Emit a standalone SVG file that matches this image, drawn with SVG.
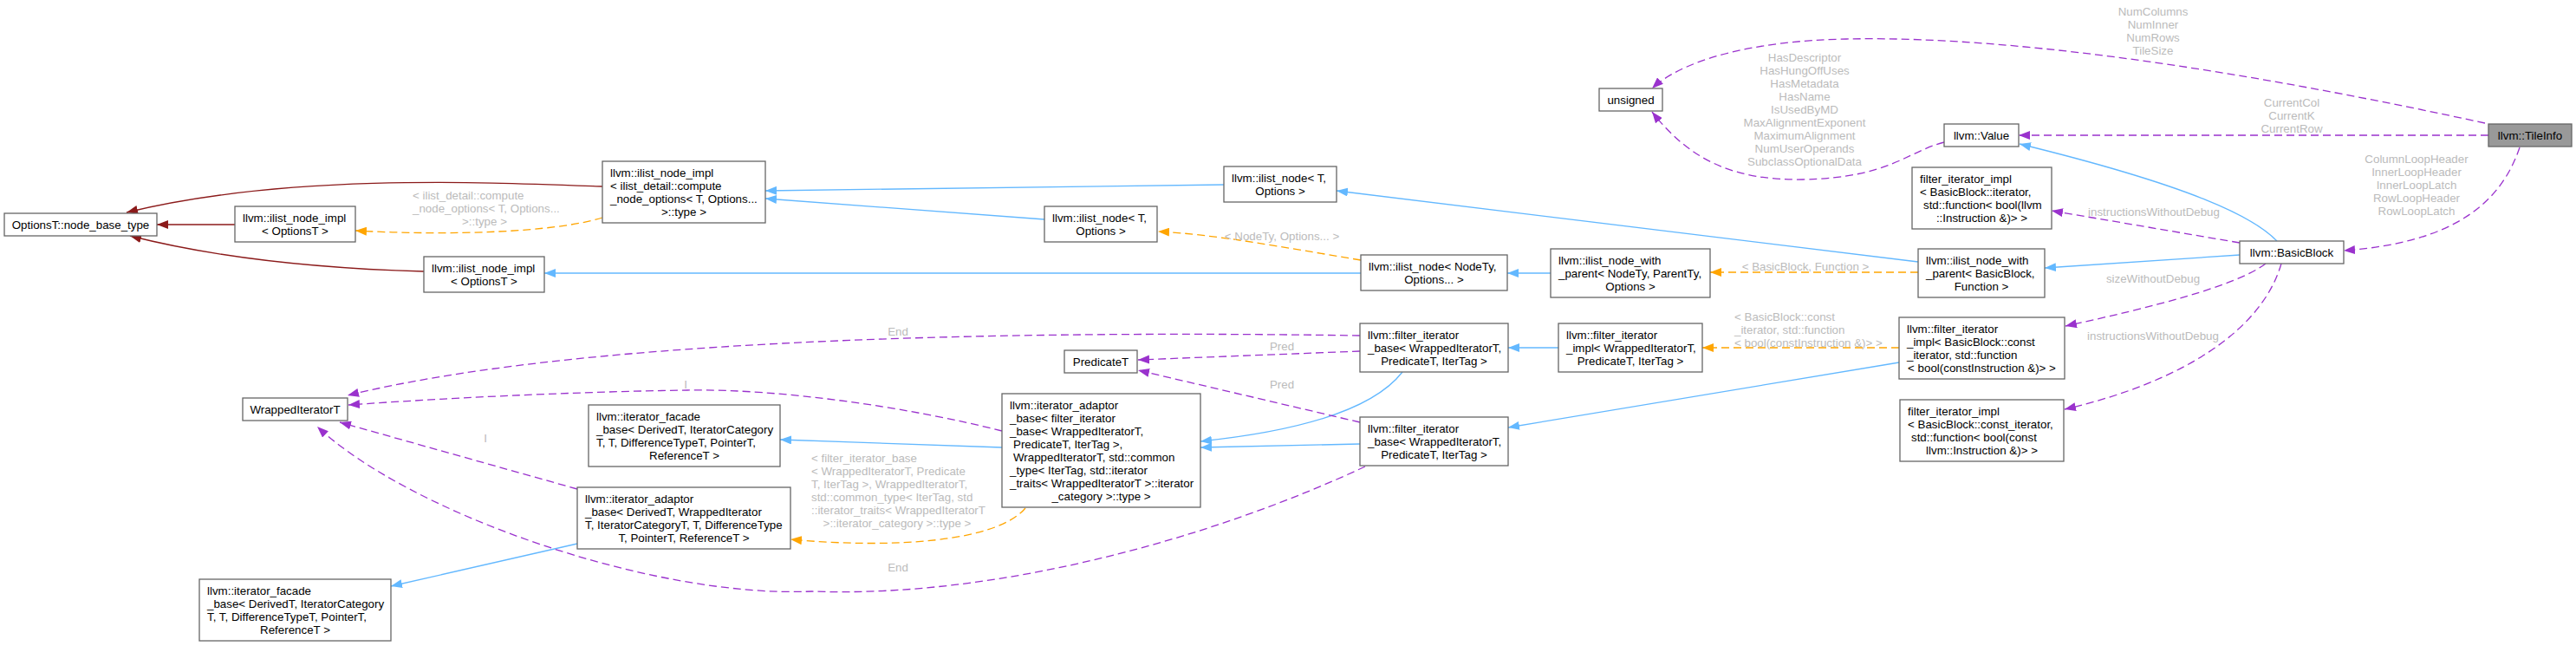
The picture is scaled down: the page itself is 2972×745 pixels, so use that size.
<svg xmlns="http://www.w3.org/2000/svg" width="2972" height="745" viewBox="0 0 2972 745">
<style>
text{font-family:"Liberation Sans",Arial,Helvetica,sans-serif;font-size:13.33px;fill:#000}
.c{text-anchor:middle}
.l{fill:#bbbbbb}
.n rect{fill:#fff;stroke:#666;stroke-width:1.3}
#n_tile rect{fill:#999}
#edges path{fill:none;stroke-width:1.3}
.b{stroke:#63b8ff;marker-end:url(#mb)}
.r{stroke:#8b1a1a;marker-end:url(#mr)}
.o{stroke:#ffa500;stroke-dasharray:9,5;marker-end:url(#mo)}
.p{stroke:#9a32cd;stroke-dasharray:9,5;marker-end:url(#mp)}
</style>
<defs>
<marker id="mb" markerUnits="userSpaceOnUse" viewBox="0 0 13 10" markerWidth="13" markerHeight="10" refX="13" refY="5" orient="auto"><path d="M0,0L13,5L0,10z" fill="#63b8ff"/></marker>
<marker id="mr" markerUnits="userSpaceOnUse" viewBox="0 0 13 10" markerWidth="13" markerHeight="10" refX="13" refY="5" orient="auto"><path d="M0,0L13,5L0,10z" fill="#8b1a1a"/></marker>
<marker id="mo" markerUnits="userSpaceOnUse" viewBox="0 0 13 10" markerWidth="13" markerHeight="10" refX="13" refY="5" orient="auto"><path d="M0,0L13,5L0,10z" fill="#ffa500"/></marker>
<marker id="mp" markerUnits="userSpaceOnUse" viewBox="0 0 13 10" markerWidth="13" markerHeight="10" refX="13" refY="5" orient="auto"><path d="M0,0L13,5L0,10z" fill="#9a32cd"/></marker>
</defs>
<rect x="0" y="0" width="2972" height="745" fill="#fff"/>
<g id="edges">
<path class="r" d="M695,215 C560,210 330,200 146,245"/>
<path class="r" d="M271,259 L181,259"/>
<path class="r" d="M489,313 C380,310 260,300 150,272"/>
<path class="o" d="M695,251 C640,268 520,272 410,266"/>
<text class="l" x="476" y="229.7">&lt; ilist_detail::compute</text>
<text class="l" x="476" y="244.7">_node_options&lt; T, Options...</text>
<text class="l c" x="559" y="259.7">&gt;::type &gt;</text>
<path class="b" d="M1412,213 L883,220"/>
<path class="b" d="M1205,253 L883,229"/>
<path class="b" d="M1570,315 L628,315"/>
<path class="b" d="M1789,315 L1739,315"/>
<path class="o" d="M1570,300 C1480,285 1400,270 1336,267"/>
<text class="l c" x="1479" y="276.7">&lt; NodeTy, Options... &gt;</text>
<path class="b" d="M2213,302 L1542,220"/>
<path class="o" d="M2213,314 L1973,314"/>
<text class="l c" x="2083" y="312">&lt; BasicBlock, Function &gt;</text>
<path class="b" d="M2584,294 L2359,309"/>
<path class="b" d="M2627,278 C2600,250 2530,215 2330,166"/>
<path class="p" d="M2867,142 C2650,95 2350,40 2130,45 C2020,47 1940,70 1906,102"/>
<text class="l c" x="2484" y="18">NumColumns</text>
<text class="l c" x="2484" y="33">NumInner</text>
<text class="l c" x="2484" y="48">NumRows</text>
<text class="l c" x="2484" y="63">TileSize</text>
<path class="p" d="M2871,156 L2329,156"/>
<text class="l c" x="2644" y="123">CurrentCol</text>
<text class="l c" x="2644" y="138">CurrentK</text>
<text class="l c" x="2644" y="153">CurrentRow</text>
<path class="p" d="M2907,170 C2885,235 2830,280 2704,289"/>
<text class="l c" x="2788" y="188">ColumnLoopHeader</text>
<text class="l c" x="2788" y="203">InnerLoopHeader</text>
<text class="l c" x="2788" y="218">InnerLoopLatch</text>
<text class="l c" x="2788" y="233">RowLoopHeader</text>
<text class="l c" x="2788" y="248">RowLoopLatch</text>
<path class="p" d="M2243,164 C2200,175 2180,205 2080,207 C2000,208 1950,185 1906,129"/>
<text class="l c" x="2082" y="71.4">HasDescriptor</text>
<text class="l c" x="2082" y="86.4">HasHungOffUses</text>
<text class="l c" x="2082" y="101.4">HasMetadata</text>
<text class="l c" x="2082" y="116.4">HasName</text>
<text class="l c" x="2082" y="131.4">IsUsedByMD</text>
<text class="l c" x="2082" y="146.4">MaxAlignmentExponent</text>
<text class="l c" x="2082" y="161.4">MaximumAlignment</text>
<text class="l c" x="2082" y="176.4">NumUserOperands</text>
<text class="l c" x="2082" y="191.4">SubclassOptionalData</text>
<path class="p" d="M2584,280 L2367,243"/>
<text class="l c" x="2485" y="248.7">instructionsWithoutDebug</text>
<path class="p" d="M2614,304 C2580,330 2480,355 2383,376"/>
<text class="l c" x="2484" y="325.7">sizeWithoutDebug</text>
<path class="p" d="M2632,304 C2610,380 2520,440 2382,472"/>
<text class="l c" x="2484" y="392.4">instructionsWithoutDebug</text>
<path class="o" d="M2191,401 L1964,401"/>
<text class="l" x="2001" y="369.7">&lt; BasicBlock::const</text>
<text class="l" x="2001" y="384.7">_iterator, std::function</text>
<text class="l" x="2001" y="399.7">&lt; bool(constInstruction &amp;)&gt; &gt;</text>
<path class="b" d="M1798,401 L1740,401"/>
<path class="b" d="M2191,418 L1740,493"/>
<path class="b" d="M1618,429 C1590,465 1520,495 1385,509"/>
<path class="b" d="M1569,512 L1385,516"/>
<path class="b" d="M1156,516 L900,507"/>
<path class="b" d="M666,627 L451,676"/>
<path class="o" d="M1183,586 C1150,625 1030,633 912,622"/>
<text class="l" x="936" y="533">&lt; filter_iterator_base</text>
<text class="l" x="936" y="548">&lt; WrappedIteratorT, Predicate</text>
<text class="l" x="936" y="563">T, IterTag &gt;, WrappedIteratorT,</text>
<text class="l" x="936" y="578"> std::common_type&lt; IterTag, std</text>
<text class="l" x="936" y="593">::iterator_traits&lt; WrappedIteratorT</text>
<text class="l c" x="1035" y="608">&gt;::iterator_category &gt;::type &gt;</text>
<path class="p" d="M1569,387 C1100,380 650,395 401,456"/>
<text class="l c" x="1036" y="386.7">End</text>
<path class="p" d="M1569,405 L1313,415"/>
<text class="l c" x="1479" y="404">Pred</text>
<path class="p" d="M1569,487 L1313,427"/>
<text class="l c" x="1479" y="448">Pred</text>
<path class="p" d="M1575,538 C1400,620 1150,690 937,682 C750,690 470,590 366,492"/>
<text class="l c" x="1036" y="659">End</text>
<path class="p" d="M1156,497 C1050,470 900,448 793,450 C650,452 500,460 402,467"/>
<text class="l c" x="791" y="448">I</text>
<path class="p" d="M666,564 L392,487"/>
<text class="l c" x="560" y="510">I</text>
</g>
<g id="n_optionsT" class="n"><rect x="5" y="246" width="176" height="26"/><text class="c" x="93" y="263.7">OptionsT::node_base_type</text></g>
<g id="n_implA" class="n"><rect x="271" y="238" width="139" height="41"/><text x="280" y="256.2">llvm::ilist_node_impl</text><text class="c" x="340.5" y="271.2">&lt; OptionsT &gt;</text></g>
<g id="n_implB" class="n"><rect x="489" y="296" width="139" height="41"/><text x="498" y="314.2">llvm::ilist_node_impl</text><text class="c" x="558.5" y="329.2">&lt; OptionsT &gt;</text></g>
<g id="n_implBig" class="n"><rect x="695" y="186" width="188" height="71"/><text x="704" y="204.2">llvm::ilist_node_impl</text><text x="704" y="219.2">&lt; ilist_detail::compute</text><text x="704" y="234.2">_node_options&lt; T, Options...</text><text class="c" x="789" y="249.2">&gt;::type &gt;</text></g>
<g id="n_nodeTA" class="n"><rect x="1205" y="238" width="130" height="41"/><text x="1214" y="256.2">llvm::ilist_node&lt; T,</text><text class="c" x="1270" y="271.2">Options &gt;</text></g>
<g id="n_nodeTB" class="n"><rect x="1412" y="192" width="130" height="41"/><text x="1421" y="210.2">llvm::ilist_node&lt; T,</text><text class="c" x="1477" y="225.2">Options &gt;</text></g>
<g id="n_nodeNodeTy" class="n"><rect x="1570" y="294" width="169" height="41"/><text x="1579" y="312.2">llvm::ilist_node&lt; NodeTy,</text><text class="c" x="1654.5" y="327.2">Options... &gt;</text></g>
<g id="n_nwpNodeTy" class="n"><rect x="1789" y="287" width="184" height="56"/><text x="1798" y="305.2">llvm::ilist_node_with</text><text x="1798" y="320.2">_parent&lt; NodeTy, ParentTy,</text><text class="c" x="1881" y="335.2">Options &gt;</text></g>
<g id="n_nwpBB" class="n"><rect x="2213" y="287" width="146" height="56"/><text x="2222" y="305.2">llvm::ilist_node_with</text><text x="2222" y="320.2">_parent&lt; BasicBlock,</text><text class="c" x="2286" y="335.2">Function &gt;</text></g>
<g id="n_unsigned" class="n"><rect x="1845" y="102" width="73" height="26"/><text class="c" x="1881.5" y="119.7">unsigned</text></g>
<g id="n_value" class="n"><rect x="2243" y="143" width="86" height="26"/><text class="c" x="2286" y="160.7">llvm::Value</text></g>
<g id="n_fiiBBiter" class="n"><rect x="2206" y="193" width="161" height="71"/><text x="2215" y="211.2">filter_iterator_impl</text><text x="2215" y="226.2">&lt; BasicBlock::iterator,</text><text x="2219" y="241.2">std::function&lt; bool(llvm</text><text class="c" x="2286.5" y="256.2">::Instruction &amp;)&gt; &gt;</text></g>
<g id="n_bb" class="n"><rect x="2584" y="278" width="120" height="26"/><text class="c" x="2644" y="295.7">llvm::BasicBlock</text></g>
<g id="n_tile" class="n"><rect x="2871" y="143" width="96" height="26"/><text class="c" x="2919" y="160.7">llvm::TileInfo</text></g>
<g id="n_lfiiBBconst" class="n"><rect x="2191" y="366" width="191" height="71"/><text x="2200" y="384.2">llvm::filter_iterator</text><text x="2200" y="399.2">_impl&lt; BasicBlock::const</text><text x="2200" y="414.2">_iterator, std::function</text><text class="c" x="2286.5" y="429.2">&lt; bool(constInstruction &amp;)&gt; &gt;</text></g>
<g id="n_fiiBBconst" class="n"><rect x="2192" y="461" width="189" height="71"/><text x="2201" y="479.2">filter_iterator_impl</text><text x="2201" y="494.2">&lt; BasicBlock::const_iterator,</text><text x="2205" y="509.2">std::function&lt; bool(const</text><text class="c" x="2286.5" y="524.2">llvm::Instruction &amp;)&gt; &gt;</text></g>
<g id="n_lfiiW" class="n"><rect x="1798" y="373" width="166" height="56"/><text x="1807" y="391.2">llvm::filter_iterator</text><text x="1807" y="406.2">_impl&lt; WrappedIteratorT,</text><text class="c" x="1881" y="421.2">PredicateT, IterTag &gt;</text></g>
<g id="n_fibA" class="n"><rect x="1569" y="373" width="171" height="56"/><text x="1578" y="391.2">llvm::filter_iterator</text><text x="1578" y="406.2">_base&lt; WrappedIteratorT,</text><text class="c" x="1654.5" y="421.2">PredicateT, IterTag &gt;</text></g>
<g id="n_fibB" class="n"><rect x="1569" y="481" width="171" height="56"/><text x="1578" y="499.2">llvm::filter_iterator</text><text x="1578" y="514.2">_base&lt; WrappedIteratorT,</text><text class="c" x="1654.5" y="529.2">PredicateT, IterTag &gt;</text></g>
<g id="n_pred" class="n"><rect x="1228" y="404" width="84" height="26"/><text class="c" x="1270" y="421.7">PredicateT</text></g>
<g id="n_adaptorF" class="n"><rect x="1156" y="454" width="229" height="131"/><text x="1165" y="472.2">llvm::iterator_adaptor</text><text x="1165" y="487.2">_base&lt; filter_iterator</text><text x="1165" y="502.2">_base&lt; WrappedIteratorT,</text><text x="1169" y="517.2">PredicateT, IterTag &gt;,</text><text x="1169" y="532.2">WrappedIteratorT, std::common</text><text x="1165" y="547.2">_type&lt; IterTag, std::iterator</text><text x="1165" y="562.2">_traits&lt; WrappedIteratorT &gt;::iterator</text><text class="c" x="1270.5" y="577.2">_category &gt;::type &gt;</text></g>
<g id="n_facadeA" class="n"><rect x="679" y="467" width="221" height="71"/><text x="688" y="485.2">llvm::iterator_facade</text><text x="688" y="500.2">_base&lt; DerivedT, IteratorCategory</text><text x="688" y="515.2">T, T, DifferenceTypeT, PointerT,</text><text class="c" x="789.5" y="530.2">ReferenceT &gt;</text></g>
<g id="n_adaptorD" class="n"><rect x="666" y="562" width="246" height="71"/><text x="675" y="580.2">llvm::iterator_adaptor</text><text x="675" y="595.2">_base&lt; DerivedT, WrappedIterator</text><text x="675" y="610.2">T, IteratorCategoryT, T, DifferenceType</text><text class="c" x="789" y="625.2">T, PointerT, ReferenceT &gt;</text></g>
<g id="n_wrapped" class="n"><rect x="280" y="459" width="121" height="26"/><text class="c" x="340.5" y="476.7">WrappedIteratorT</text></g>
<g id="n_facadeB" class="n"><rect x="230" y="668" width="221" height="71"/><text x="239" y="686.2">llvm::iterator_facade</text><text x="239" y="701.2">_base&lt; DerivedT, IteratorCategory</text><text x="239" y="716.2">T, T, DifferenceTypeT, PointerT,</text><text class="c" x="340.5" y="731.2">ReferenceT &gt;</text></g>
</svg>
